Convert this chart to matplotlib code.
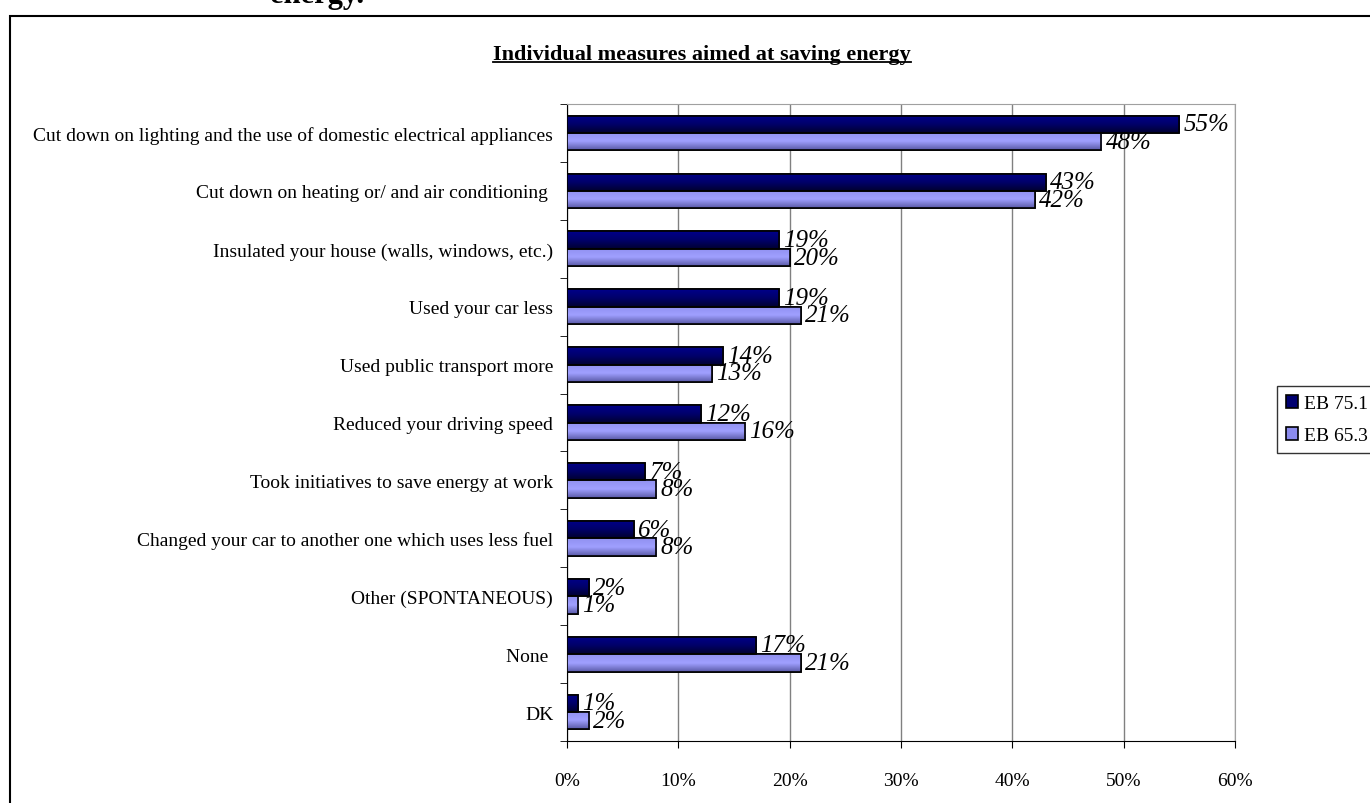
import numpy as np
import matplotlib
matplotlib.use("Agg")
import matplotlib.pyplot as plt
from matplotlib.colors import LinearSegmentedColormap
from matplotlib.patches import Rectangle
from matplotlib.lines import Line2D

plt.rcParams['font.family'] = ['Liberation Serif', 'DejaVu Serif']

# Data
categories = [
    "Cut down on lighting and the use of domestic electrical appliances",
    "Cut down on heating or/ and air conditioning ",
    "Insulated your house (walls, windows, etc.)",
    "Used your car less",
    "Used public transport more",
    "Reduced your driving speed",
    "Took initiatives to save energy at work",
    "Changed your car to another one which uses less fuel",
    "Other (SPONTANEOUS)",
    "None ",
    "DK",
]
eb_75_1 = [55, 43, 19, 19, 14, 12, 7, 6, 2, 17, 1]
eb_65_3 = [48, 42, 20, 21, 13, 16, 8, 8, 1, 21, 2]
series_names = ["EB 75.1", "EB 65.3"]
x_ticks = [0, 10, 20, 30, 40, 50, 60]

fig = plt.figure(figsize=(13.7, 8.04), dpi=100)
ax = fig.add_axes([0.4139, 0.0771, 0.4876, 0.7922])

# outer chart frame (runs off the right and bottom edges)
fig.patches.append(Rectangle((10 / 1370, -0.05), 1.2, 1 - 17 / 804 + 0.05,
                             transform=fig.transFigure, fill=False,
                             edgecolor='black', linewidth=1.5, clip_on=False))
# tail of the page heading above the chart
fig.text(270 / 1370, 1 - 3 / 804, "energy.", fontsize=22, fontweight='bold',
         va='baseline', ha='left')

y = np.arange(len(categories))
h = 0.3
dark_cmap = LinearSegmentedColormap.from_list("dk", ["#00008a", "#00006a", "#000030"])
light_cmap = LinearSegmentedColormap.from_list("lt", ["#9090f0", "#a0a0ff", "#5a5aa8"])
grad = np.linspace(0, 1, 64).reshape(-1, 1)


def gradient_bars(vals, offset, cmap, label, face):
    bars = ax.barh(y + offset, vals, height=h, color=face, edgecolor='black',
                   linewidth=1.2, label=label, zorder=3)
    for b in bars:
        x0, y0 = b.get_x(), b.get_y()
        im = ax.imshow(grad, cmap=cmap, aspect='auto', zorder=3.5,
                       extent=[x0, x0 + b.get_width(), y0 + b.get_height(), y0])
        im.set_clip_path(b)
        b2 = Rectangle((x0, y0), b.get_width(), b.get_height(), fill=False,
                       edgecolor='black', linewidth=1.2, zorder=4)
        ax.add_patch(b2)
    for v, yy in zip(vals, y + offset):
        ax.annotate(f"{v}%", (v, yy), xytext=(3, 0), textcoords='offset points',
                    va='center', ha='left', fontsize=18, style='italic', zorder=5)
    return bars


gradient_bars(eb_75_1, -h / 2, dark_cmap, series_names[0], "#000070")
gradient_bars(eb_65_3, h / 2, light_cmap, series_names[1], "#8c8cee")

ax.set_xlim(0, 60)
ax.set_ylim(len(categories) - 0.5, -0.5)
ax.set_xticks(x_ticks)
ax.set_xticklabels([f"{t}%" for t in x_ticks], fontsize=14)
ax.set_yticks(y)
ax.set_yticklabels(categories, fontsize=14)
ax.set_yticks(np.arange(len(categories) + 1) - 0.5, minor=True)
ax.tick_params(axis='y', which='major', length=0, pad=10)
ax.tick_params(axis='y', which='minor', length=5, direction='out')
ax.tick_params(axis='x', length=5, direction='out', pad=17)
ax.xaxis.grid(True, color='#808080', linewidth=1, zorder=0)
ax.set_axisbelow(True)
for s in ['top', 'right']:
    ax.spines[s].set_color('#a0a0a0')
ax.spines['left'].set_color('black')
ax.spines['bottom'].set_color('black')

# title with underline
title = fig.text(702 / 1370, 1 - 55 / 804, "Individual measures aimed at saving energy",
                 fontsize=16, fontweight='bold', ha='center', va='center')
fig.canvas.draw()
bb = title.get_window_extent().transformed(fig.transFigure.inverted())
fig.lines.append(Line2D([bb.x0, bb.x1], [bb.y0 + 0.003, bb.y0 + 0.003],
                        transform=fig.transFigure, color='black', linewidth=1.3))

leg = fig.legend(loc='upper left', bbox_to_anchor=(1277 / 1370, 1 - 387 / 804),
                 fontsize=14, frameon=True, fancybox=False, edgecolor='black',
                 handlelength=0.65, handleheight=0.65, handletextpad=0.3,
                 borderpad=0.45, labelspacing=0.75, borderaxespad=0)
leg.get_frame().set_linewidth(1)

fig.savefig("out.png", dpi=100)
